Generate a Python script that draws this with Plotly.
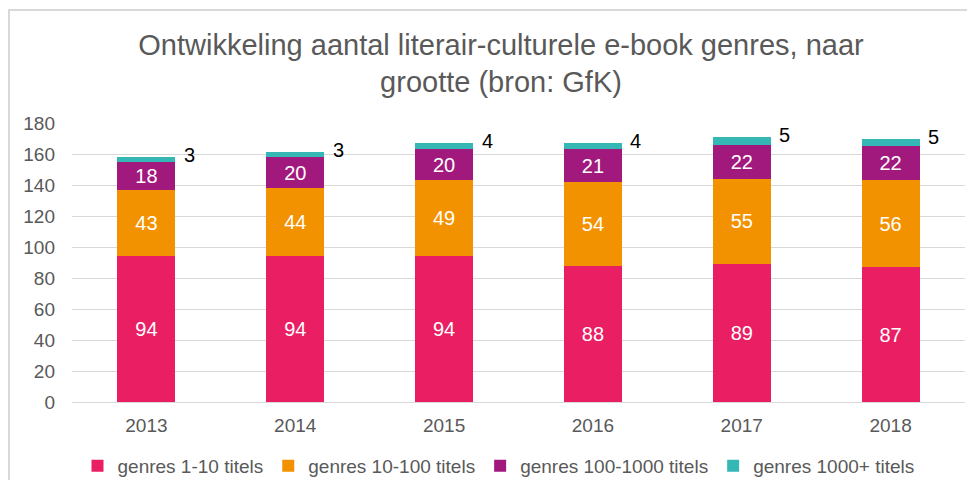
import plotly.graph_objects as go

years = ["2013", "2014", "2015", "2016", "2017", "2018"]
s1 = [94, 94, 94, 88, 89, 87]
s2 = [43, 44, 49, 54, 55, 56]
s3 = [18, 20, 20, 21, 22, 22]
s4 = [3, 3, 4, 4, 5, 5]
names = ["genres 1-10 titels", "genres 10-100 titels", "genres 100-1000 titels", "genres 1000+ titels"]
colors = ["#E91E63", "#F39200", "#A2197E", "#35B7B5"]

FONT = "Liberation Sans, Arial"

# the page body has an 8px margin, so the figure is drawn 8px in from the window edge
W, H = 959, 472
L, R, T, B = 64, 2, 115, 78
PW = W - L - R
PH = H - T - B

fig = go.Figure()
for vals, name, col, show in zip([s1, s2, s3, s4], names, colors, [True, True, True, False]):
    fig.add_trace(go.Bar(
        x=years, y=vals, name=name, marker=dict(color=col, line=dict(width=0)),
        text=[str(v) for v in vals] if show else None,
        textposition="inside" if show else "none",
        insidetextanchor="middle",
        textangle=0,
        textfont=dict(color="white", size=20, family=FONT),
        hoverinfo="skip",
    ))

totals = [a + b + c + d for a, b, c, d in zip(s1, s2, s3, s4)]
for i, (tot, v) in enumerate(zip(totals, s4)):
    fig.add_annotation(x=i, y=tot, xref="x", yref="y", text=str(v), showarrow=False,
                       xshift=43, yshift=2,
                       font=dict(size=20, color="#000000", family=FONT))

fig.add_shape(type="rect", xref="paper", yref="paper",
              x0=(1 - L) / PW, x1=(W + 20 - L) / PW,
              y0=(PH + T - H - 20) / PH, y1=(PH + T - 2) / PH,
              line=dict(color="#D9D9D9", width=2), fillcolor="rgba(0,0,0,0)", layer="below")

fig.update_layout(
    width=W, height=H,
    barmode="stack", bargap=0.61,
    paper_bgcolor="white", plot_bgcolor="white",
    margin=dict(l=L, r=R, t=T, b=B, autoexpand=False),
    font=dict(family=FONT, color="#595959", size=19),
    title=dict(text="Ontwikkeling aantal literair-culturele e-book genres, naar<br>grootte (bron: GfK)",
               x=(501 - 8) / W, xanchor="center", xref="container",
               yref="container", y=1 - 46.5 / H, yanchor="middle",
               font=dict(size=29, color="#595959"), automargin=False),
    xaxis=dict(type="category", range=[-0.5, len(years) - 0.5], autorange=False, automargin=False,
               showgrid=False, linecolor="#D9D9D9", linewidth=1, ticks="",
               tickfont=dict(size=19), ticklabelstandoff=6),
    yaxis=dict(range=[0, 180], dtick=20, gridcolor="#D9D9D9", gridwidth=1, zeroline=False,
               automargin=False, showline=False, tickfont=dict(size=19), ticklabelstandoff=16),
    legend=dict(orientation="h", x=426.5 / PW, xanchor="center", y=(PH - (458 - T)) / PH,
                yanchor="middle", font=dict(size=19), traceorder="normal", itemwidth=30),
    showlegend=True,
)
fig.write_html("out.html")
